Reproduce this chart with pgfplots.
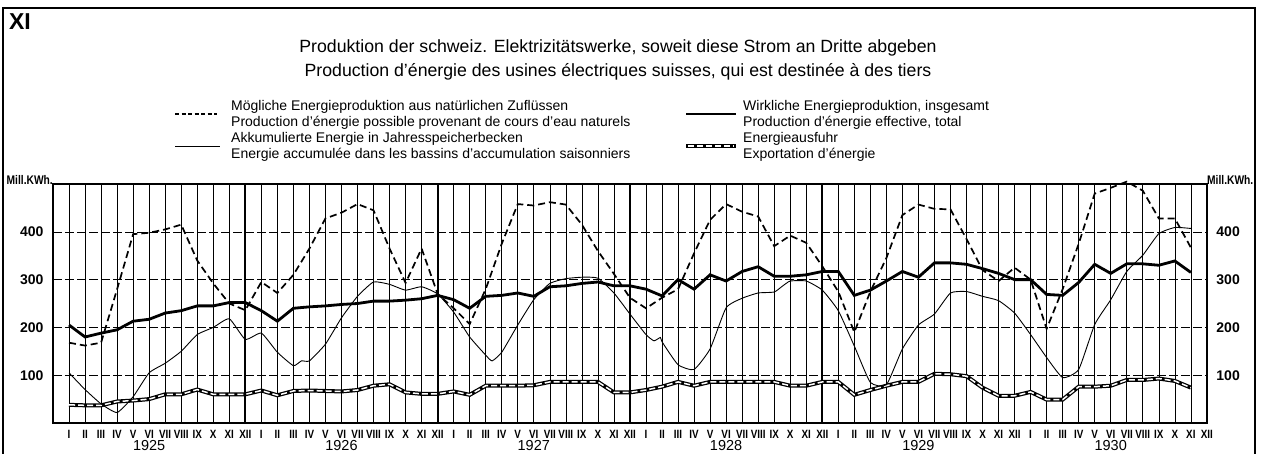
\documentclass[border=0pt]{standalone}
\usepackage{pgfplots}
\usepackage{pgfplotstable}
\pgfplotsset{compat=1.18}
\usepackage{fontspec}
\setmainfont{Liberation Sans}
\newfontfamily\narrow[FakeStretch=0.82]{Liberation Sans}

\pgfplotstableread{
m poss prod exp
0 168 205 38
1 162 180 37
2 168 188 37
3 280 195 45
4 395 213 47
5 398 217 50
6 405 230 60
7 415 235 60
8 340 245 70
9 292 245 60
10 250 252 60
11 236 252 60
12 295 235 68
13 272 213 58
14 310 240 67
15 365 243 68
16 428 245 67
17 440 248 66
18 458 250 69
19 445 255 78
20 365 255 81
21 293 257 64
22 365 260 61
23 270 267 61
24 240 258 66
25 207 240 59
26 280 265 78
27 375 267 78
28 458 272 78
29 455 265 79
30 462 285 86
31 457 287 86
32 415 292 86
33 360 295 86
34 312 287 64
35 262 287 64
36 240 280 69
37 262 266 76
38 280 300 86
39 355 280 78
40 425 310 86
41 458 297 86
42 442 317 86
43 432 327 86
44 370 307 86
45 392 307 78
46 377 310 78
47 328 317 86
48 275 317 86
49 190 267 59
50 275 278 69
51 345 297 78
52 435 317 86
53 457 305 86
54 448 335 103
55 447 335 102
56 385 332 98
57 320 323 74
58 297 313 57
59 325 300 57
60 300 300 65
61 197 269 49
62 280 267 49
63 375 294 76
64 480 332 76
65 492 313 78
66 505 333 90
67 486 333 90
68 428 330 93
69 428 339 88
70 367 315 74
}\data

\pgfplotstableread{
m acc
0 105
1 70
2 40
3 22
4 55
5 105
6 125
7 150
8 185
9 200
10 218
11 175
12 188
13 148
14 120
14.5 130
15 130
16 165
17 220
18 265
19 295
20 290
21 278
22 285
23 270
24 232
25 180
26 142
26.4 130
27 148
28 205
29 258
30 292
31 302
32 305
33 303
34 272
35 228
36 185
36.5 172
36.9 179
37 170
38 122
39 112
40 155
41 241
42 261
43 272
44 274
44.5 286
45 297
46 297
47 278
48 235
49 161
50 85
51 80
52 155
53 205
54 228
55 272
56 275
57 265
58 256
59 230
60 185
61 137
62 95
63 112
64 206
65 258
66 317
67 351
68 396
69 409
70 407
}\accdata

\begin{document}
\begin{tikzpicture}[x=1pt,y=1pt]
\path[use as bounding box] (0,0) rectangle (1262,-453);
% outer frame
\draw[line width=1.6pt] (3,-455) -- (3,-8) -- (1255,-8) -- (1255,-455);
\node[font=\bfseries\fontsize{23}{23}\selectfont] at (20,-22) {XI};
% title
\node[align=center, font=\fontsize{17.7}{24}\selectfont] at (618,-60)
  {Produktion der schweiz. Elektrizitätswerke, soweit diese Strom an Dritte abgeben\\
   Production d'énergie des usines électriques suisses, qui est destinée à des tiers};
% legend
\tikzset{leg/.style={anchor=base west, inner sep=0pt, font=\fontsize{14}{14}\selectfont}}
\draw[line width=1.4pt, dash pattern=on 4pt off 2.5pt] (175,-114) -- (217,-114);
\node[leg] at (231,-110) {Mögliche Energieproduktion aus natürlichen Zuflüssen};
\node[leg] at (231,-126) {Production d'énergie possible provenant de cours d'eau naturels};
\draw[line width=0.9pt] (175,-146) -- (220,-146);
\node[leg] at (231,-142.5) {Akkumulierte Energie in Jahresspeicherbecken};
\node[leg] at (231,-158.5) {Energie accumulée dans les bassins d'accumulation saisonniers};
\draw[line width=2.6pt] (686,-114) -- (736,-114);
\node[leg] at (743,-110) {Wirkliche Energieproduktion, insgesamt};
\node[leg] at (743,-126) {Production d'énergie effective, total};
\draw[line width=4pt] (686,-146) -- (736,-146);
\draw[line width=1.5pt, white, dash pattern=on 6pt off 3pt] (688,-146) -- (734,-146);
\node[leg] at (743,-142.5) {Energieausfuhr};
\node[leg] at (743,-158.5) {Exportation d'énergie};
% unit labels
\node[anchor=base east, inner sep=0pt, font=\narrow\bfseries\fontsize{12.5}{12.5}\selectfont] at (53,-184) {Mill.KWh.};
\node[anchor=base west, inner sep=0pt, font=\narrow\bfseries\fontsize{12.5}{12.5}\selectfont] at (1207,-184) {Mill.KWh.};

\begin{axis}[
  at={(53pt,-423pt)}, anchor=south west,
  scale only axis, width=1154pt, height=239pt,
  xmin=-1, xmax=71, ymin=0, ymax=500,
  clip=false,
  axis line style={line width=1.3pt},
  major tick length=0pt,
  xtick={0,...,71},
  xticklabels={I,II,III,IV,V,VI,VII,VIII,IX,X,XI,XII,I,II,III,IV,V,VI,VII,VIII,IX,X,XI,XII,I,II,III,IV,V,VI,VII,VIII,IX,X,XI,XII,I,II,III,IV,V,VI,VII,VIII,IX,X,XI,XII,I,II,III,IV,V,VI,VII,VIII,IX,X,XI,XII,I,II,III,IV,V,VI,VII,VIII,IX,X,XI,XII},
  xticklabel style={anchor=center, yshift=-11.5pt, font=\narrow\bfseries\fontsize{12}{12}\selectfont},
  ytick={100,200,300,400},
  yticklabel style={anchor=east, xshift=-6pt, font=\bfseries\fontsize{14}{14}\selectfont},
  /pgf/number format/assume math mode=true,
]
\pgfplotsinvokeforeach{0,...,70}{\draw[line width=0.6pt] (axis cs:#1,0) -- (axis cs:#1,500);}
\pgfplotsinvokeforeach{11,23,35,47,59}{\draw[line width=1.8pt] (axis cs:#1,0) -- (axis cs:#1,500);}
\pgfplotsinvokeforeach{100,200,300,400}{\draw[line width=0.6pt, dash pattern=on 9pt off 3pt] (axis cs:-1,#1) -- (axis cs:71,#1);}
\pgfplotsinvokeforeach{1925,1926,1927,1928,1929,1930}{%
  \node[font=\fontsize{14.5}{14.5}\selectfont] at ([yshift=-23pt]axis cs:{(#1-1925)*12+5},0) {#1};}
\addplot[black, line width=4pt] table[x=m, y=exp] {\data};
\addplot[white, line width=1.5pt, dash pattern=on 6pt off 3pt] table[x=m, y=exp] {\data};
\addplot[black, line width=0.9pt, smooth, tension=0.3] table[x=m, y=acc] {\accdata};
\addplot[black, line width=2.8pt] table[x=m, y=prod] {\data};
\addplot[black, line width=1.7pt, dash pattern=on 7pt off 4pt] table[x=m, y=poss] {\data};
\end{axis}
\begin{axis}[
  at={(53pt,-423pt)}, anchor=south west,
  scale only axis, width=1154pt, height=239pt,
  xmin=-1, xmax=71, ymin=0, ymax=500,
  axis x line=none, axis y line*=right,
  axis line style={line width=1.3pt},
  major tick length=0pt,
  ytick={100,200,300,400},
  yticklabel style={anchor=west, xshift=6pt, font=\bfseries\fontsize{14}{14}\selectfont},
  /pgf/number format/assume math mode=true,
]
\addplot[draw=none] coordinates {(0,0)};
\end{axis}
\end{tikzpicture}
\end{document}
